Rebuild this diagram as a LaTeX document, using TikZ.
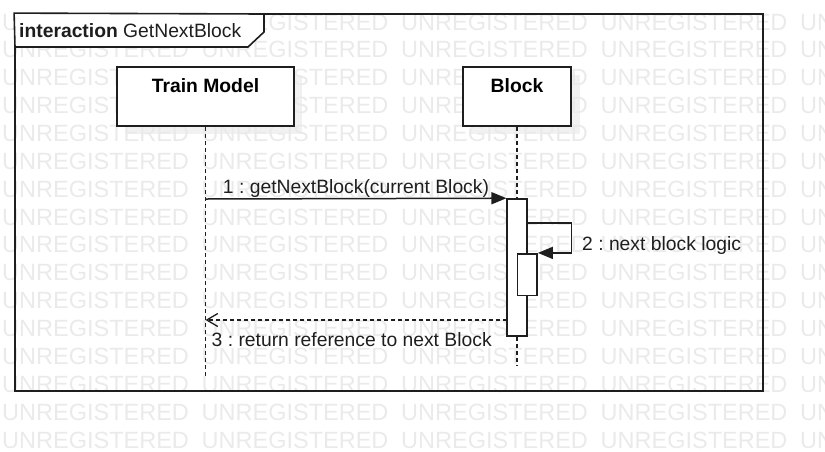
\documentclass[tikz,border=0pt]{standalone}
\usepackage{fontspec}
\setmainfont{Liberation Sans}
\usetikzlibrary{arrows.meta}
\definecolor{wm}{RGB}{234,234,234}
\definecolor{shd}{RGB}{241,241,241}
\definecolor{ln}{RGB}{30,30,30}
\frenchspacing
\begin{document}
\begin{tikzpicture}[x=1pt,y=-1pt,
  font=\fontsize{19.3}{23}\selectfont,
  wmtext/.style={font=\fontsize{23.5}{23.5}\selectfont, text=wm, inner sep=0, anchor=base west},
  head/.style={draw=ln, line width=1.6pt, fill=white, inner sep=0,
    text height=14pt, text depth=21.4pt, minimum height=59pt, font=\fontsize{19.3}{23}\selectfont\bfseries},
  shadow/.style={fill=shd, draw=none, inner sep=0, minimum height=59pt},
  actbar/.style={draw=ln, line width=1.6pt, fill=white, inner sep=0, minimum width=19.5pt},
  lifeline/.style={draw=ln, line width=1.3pt, dash pattern=on 4pt off 3pt},
  msg/.style={draw=ln, line width=1.5pt, -{Triangle[length=15pt,width=12pt]}},
  ret/.style={draw=ln, line width=1.3pt, dash pattern=on 4pt off 3pt, -{Straight Barb[length=11pt,width=13pt,line width=1.3pt]}},
  lbl/.style={inner sep=0, text=ln}]
\useasboundingbox (0,0) rectangle (825,451);
% shadows of lifeline heads
\node[shadow, minimum width=177.5pt] (tmshadow) at (213.5,104) {};
\node[shadow, minimum width=108.3pt] (blkshadow) at (525.5,104) {};
% watermark
\foreach \r in {0,...,15}{
  \foreach \c in {0,...,4}{
    \node[wmtext] (wm-\r-\c) at ({2+199.5*\c},{30+27.87*\r}) {UNREGISTERED};
  }
}
% frame
\node[draw=ln, line width=1.8pt, inner sep=0, minimum width=748pt, minimum height=377pt] (frame) at (389,202.5) {};
\draw[draw=ln, line width=1.6pt, fill=white] (frame.north west) -- (264,14) -- (264,32) -- (248,47) -- (15,47) -- cycle;
\node[lbl, anchor=base west] (title) at (19,37.8) {\textbf{interaction} GetNextBlock};
% lifeline heads
\node[head, minimum width=177.5pt] (tm) at (205.5,96.5) {Train Model};
\node[head, minimum width=108.3pt] (blk) at (517,96.5) {Block};
% lifelines
\coordinate (tmend) at (205.5,377);
\coordinate (blkend) at (517,366);
\draw[lifeline] (tm.south) -- (tmend);
\draw[lifeline] (blk.south) -- (blkend);
% activations
\node[actbar, minimum height=136.7pt] (act1) at (517,267.35) {};
\node[actbar, minimum height=41.6pt] (act2) at (527.3,274.5) {};
% message 1
\coordinate (m1s) at (205.5,199);
\draw[msg] (m1s) -- (act1.north west);
\node[lbl, anchor=base] (m1lbl) at (356,193.5) {1 : getNextBlock(current Block)};
% message 2 (self)
\coordinate (m2s) at (526.75,223);
\coordinate (m2c) at (571.3,223);
\draw[msg] (m2s) -- (m2c) |- (act2.north east);
\node[lbl, anchor=base west] (m2lbl) at (582,250.7) {2 : next block logic};
% message 3 (return)
\coordinate (m3s) at (507.25,320);
\coordinate (m3e) at (205.5,320);
\draw[ret] (m3s) -- (m3e);
\node[lbl, anchor=base west] (m3lbl) at (211.5,346.7) {3 : return reference to next Block};
\end{tikzpicture}
\end{document}
